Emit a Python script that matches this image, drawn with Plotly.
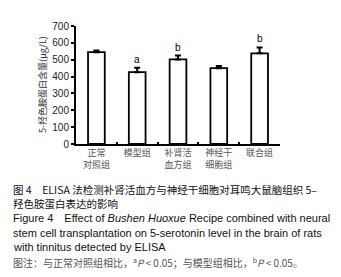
import plotly.graph_objects as go

categories = ["正常<br>对照组", "模型组", "补肾活<br>血方组", "神经干<br>细胞组", "联合组"]
values = [545, 426, 502, 450, 538]
errors = [10, 27, 23, 12, 35]
marks = ["", "a", "b", "", "b"]
y_ticks = [0, 100, 200, 300, 400, 500, 600, 700]

W, H = 341, 277
L, R, T, B = 68, 69, 16, 141
ph = H - T - B
pw = W - L - R

def py(p):
    return (H - B - p) / ph

def px(p):
    return (p - L) / pw

CJK = "Noto Sans CJK SC"
LAT = "Liberation Sans, Arial"

fig = go.Figure()
fig.add_trace(go.Bar(
    x=categories, y=values, width=0.41,
    marker=dict(color="white", line=dict(color="black", width=1.8)),
    error_y=dict(type="data", array=errors, arrayminus=[0]*5, symmetric=False,
                 color="black", thickness=2, width=3),
    showlegend=False,
))

for c, v, e, m in zip(categories, values, errors, marks):
    if m:
        fig.add_annotation(x=c, y=v + e, text=m, showarrow=False, yanchor="bottom",
                           yshift=1, font=dict(family=LAT, size=10, color="black"))

# y-axis title as rotated annotation
fig.add_annotation(xref="paper", yref="paper", x=px(34), y=0.5, text="5-羟色胺蛋白含量(μg/L)",
                   textangle=-90, showarrow=False, xanchor="center", yanchor="middle",
                   font=dict(family=CJK, size=9, color="#333"))

cap = [
    ("图 4　ELISA 法检测补肾活血方与神经干细胞对耳鸣大鼠脑组织 5–", 182, "#111", 10.5, CJK),
    ("羟色胺蛋白表达的影响", 196, "#111", 10.5, CJK),
    ("Figure 4　Effect of <i>Bushen Huoxue</i> Recipe combined with neural", 211, "#111", 11, LAT),
    ("stem cell transplantation on 5-serotonin level in the brain of rats", 226, "#111", 11, LAT),
    ("with tinnitus detected by ELISA", 241, "#111", 11, LAT),
    ("图注：与正常对照组相比，<sup>a</sup><i>P</i> < 0.05；与模型组相比，<sup>b</sup><i>P</i> < 0.05。", 257, "#555", 10, CJK),
]
for text, y, col, sz, fam in cap:
    fig.add_annotation(xref="paper", yref="paper", x=px(3), y=py(y), text=text,
                       showarrow=False, xanchor="left", yanchor="middle",
                       font=dict(family=fam, size=sz, color=col))

fig.update_layout(
    width=W, height=H, margin=dict(l=L, r=R, t=T, b=B),
    plot_bgcolor="white", paper_bgcolor="white",
    font=dict(family=LAT, color="#222"),
)
fig.update_xaxes(
    showline=True, linecolor="black", linewidth=2, range=[-0.5, 4.5],
    ticks="inside", ticklen=2, tickwidth=2, tickcolor="black", tickson="boundaries",
    tickfont=dict(family=CJK, size=9, color="#555"), showgrid=False, tickangle=0,
    ticklabelstandoff=-1,
)
fig.update_yaxes(
    range=[0, 700], tickvals=y_ticks, showline=True, linecolor="black", linewidth=2,
    ticks="outside", ticklen=3, tickwidth=1.5, tickcolor="black", showgrid=False,
    zeroline=False, tickfont=dict(family=LAT, size=10, color="#222"),
)
fig.write_html("out.html")
